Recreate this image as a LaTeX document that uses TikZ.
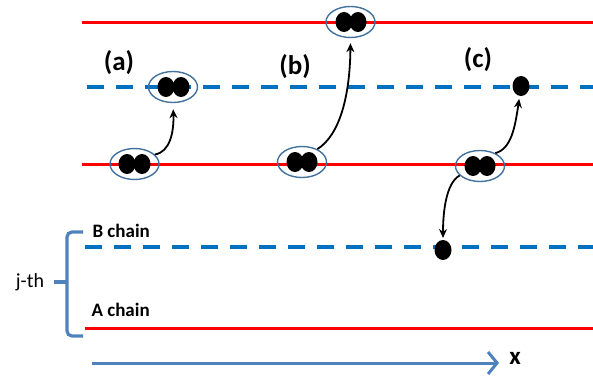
\documentclass[tikz,border=0pt]{standalone}
\usepackage{fontspec}
\setmainfont{Carlito}
\usetikzlibrary{shapes.geometric,arrows.meta}
\definecolor{chainred}{HTML}{FF0000}
\definecolor{chainblue}{HTML}{0070C0}
\definecolor{ringblue}{HTML}{41719C}
\definecolor{axisblue}{HTML}{4F81BD}
\tikzset{
  achain/.style={draw=chainred, line width=3pt},
  bchain/.style={draw=chainblue, line width=3.5pt, dash pattern=on 17pt off 12pt},
  pair/.style={ellipse, draw=ringblue, line width=1.4pt, inner sep=0pt, minimum width=49pt, minimum height=31pt},
  dot/.style={ellipse, fill=black, inner sep=0pt, minimum width=17pt, minimum height=20pt},
  hop/.style={-{Stealth[length=9pt,width=8pt]}, line width=1.8pt, black},
  tag/.style={font=\fontsize{27}{29}\selectfont\bfseries},
  chainlabel/.style={font=\fontsize{19}{21}\selectfont\bfseries, anchor=west},
  brace/.style={draw=axisblue, line width=3.2pt}
}
\begin{document}
\begin{tikzpicture}[x=1pt,y=-1pt]
\useasboundingbox (0,0) rectangle (593,377);

% chains of the upper rows
\draw[achain] (82,23) -- (593,23);
\draw[bchain] (87,87) -- (593,87);
\draw[achain] (82,164) -- (593,164);

% j-th row
\draw[bchain] (85,247) -- (593,247);
\draw[achain] (85,328) -- (593,328);
\node[chainlabel] (lb) at (89,231) {B chain};
\node[chainlabel] (la) at (88,310) {A chain};

% bracket marking the j-th row
\draw[brace, rounded corners=5pt] (83,232) -- (67,232) -- (67,336) -- (83,336);
\draw[brace] (67,282) -- (54,282);
\node[font=\fontsize{20}{22}\selectfont] (jth) at (30,282) {j-th};

% x axis
\coordinate (xs) at (92,363);
\coordinate (xe) at (499,363);
\draw[draw=axisblue, line width=3pt, -{Straight Barb[length=9pt,width=22pt,line width=3pt]}] (xs) -- (xe);
\node[font=\fontsize{25}{27}\selectfont\bfseries] (xl) at (515,358) {x};

% case labels
\node[tag] (ta) at (119,63) {(a)};
\node[tag] (tb) at (295,67) {(b)};
\node[tag] (tc) at (478,60) {(c)};

% (a): pair hops from A chain to B chain
\node[dot] (a1l) at (127,164) {};
\node[dot] (a1r) at (142,164) {};
\node[pair] (a1) at (134.5,164) {};
\node[dot] (a2l) at (166,87) {};
\node[dot] (a2r) at (181,87) {};
\node[pair] (a2) at (173,87) {};
\draw[hop, shorten >=6pt] (a1.25) .. controls (170,152) and (174,132) .. (a2.south);

% (b): pair hops to the next A chain
\node[dot] (b1l) at (295,162) {};
\node[dot] (b1r) at (309,162) {};
\node[pair] (b1) at (302,162) {};
\node[dot] (b2l) at (344,22) {};
\node[dot] (b2r) at (358,22) {};
\node[pair] (b2) at (350.5,22) {};
\draw[hop, shorten >=5pt] (b1.40) .. controls (340,135) and (350,95) .. (b2.south);

% (c): pair splits onto both neighbouring B chains
\node[dot] (c1l) at (473,166) {};
\node[dot] (c1r) at (487,166) {};
\node[pair] (c1) at (480,166) {};
\node[dot] (c2) at (521,86) {};
\node[dot] (c3) at (443,250) {};
\draw[hop, shorten >=13pt] (c1.40) .. controls (511,149) and (515,128) .. (c2.center);
\draw[hop, shorten >=12pt] (c1.205) .. controls (446,183) and (443,212) .. (c3.center);
\end{tikzpicture}
\end{document}
